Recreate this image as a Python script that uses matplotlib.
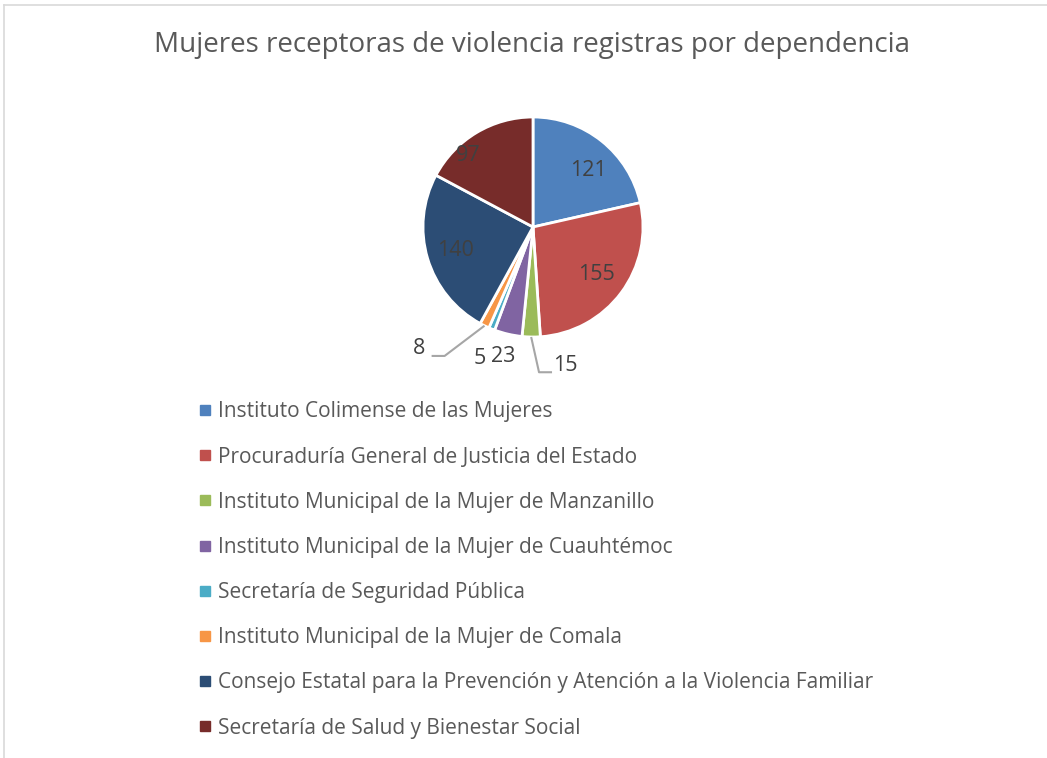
import matplotlib.pyplot as plt
import numpy as np
from matplotlib.lines import Line2D

plt.rcParams['font.family'] = ['Open Sans', 'DejaVu Sans']

titulo = "Mujeres receptoras de violencia registras por dependencia"
dependencias = [
    "Instituto Colimense de las Mujeres",
    "Procuraduría General de Justicia del Estado",
    "Instituto Municipal de la Mujer de Manzanillo",
    "Instituto Municipal de la Mujer de Cuauhtémoc",
    "Secretaría de Seguridad Pública",
    "Instituto Municipal de la Mujer de Comala",
    "Consejo Estatal para la Prevención y Atención a la Violencia Familiar",
    "Secretaría de Salud y Bienestar Social",
]
mujeres = [121, 155, 15, 23, 5, 8, 140, 97]

colores = ['#4F81BD', '#C0504D', '#9BBB59', '#8064A2',
           '#4BACC6', '#F79646', '#2C4D75', '#772C2A']

# etiqueta: distancia radial, giro en grados, con linea guia o no
etq_dist = [0.72, 0.72, 1.29, 1.21, 1.29, 1.52, 0.74, 0.88]
etq_giro = [-6, 0, 14, 0, 0, -17, 0, 11]
etq_guia = [False, False, True, False, False, True, False, False]

W, H = 1047, 758
fig = plt.figure(figsize=(W / 100, H / 100), dpi=100)
ax = fig.add_axes([0, 0, 1, 1])

cx, cy, r = 533, H - 227, 110
wedges, _ = ax.pie(mujeres, colors=colores, startangle=90, counterclock=False,
                   center=(cx, cy), radius=r,
                   wedgeprops=dict(edgecolor='white', linewidth=2))
ax.set_xlim(0, W)
ax.set_ylim(0, H)
ax.set_aspect('equal')
ax.axis('off')

gris = '#404040'
for i, w in enumerate(wedges):
    mid = np.deg2rad((w.theta1 + w.theta2) / 2)
    ang = mid + np.deg2rad(etq_giro[i])
    tx = cx + etq_dist[i] * r * np.cos(ang)
    ty = cy + etq_dist[i] * r * np.sin(ang)
    ax.text(tx, ty, str(mujeres[i]), ha='center', va='center',
            fontsize=15.5, color=gris)
    if etq_guia[i]:
        ex = cx + r * np.cos(mid)
        ey = cy + r * np.sin(mid)
        lado = 1 if tx > cx else -1
        fin_x = tx - lado * 13
        codo_x = fin_x - lado * 13
        ly = ty - 7
        ax.plot([ex, codo_x, fin_x], [ey, ly, ly], color='#A6A6A6', lw=1.5,
                solid_capstyle='butt')

fig.text(532 / W, 1 - 45 / H, titulo, ha='center', va='center',
         fontsize=20, color='#595959')

handles = [Line2D([], [], ls='', marker='s', markersize=7, color=c) for c in colores]
leg = fig.legend(handles, dependencias, loc='upper left',
                 bbox_to_anchor=(189 / W, 1 - 391 / H), frameon=False,
                 fontsize=15.0, labelcolor='#595959', handlelength=0.55,
                 handletextpad=0.35, labelspacing=1.16, borderpad=0)

# borde del area del grafico
fig.add_artist(Line2D([3.5 / W, 3.5 / W], [0, 1 - 4.5 / H], color='#D9D9D9', lw=1.2))
fig.add_artist(Line2D([3.5 / W, 1], [1 - 4.5 / H, 1 - 4.5 / H], color='#D9D9D9', lw=1.2))

fig.savefig('out.png', dpi=100)
